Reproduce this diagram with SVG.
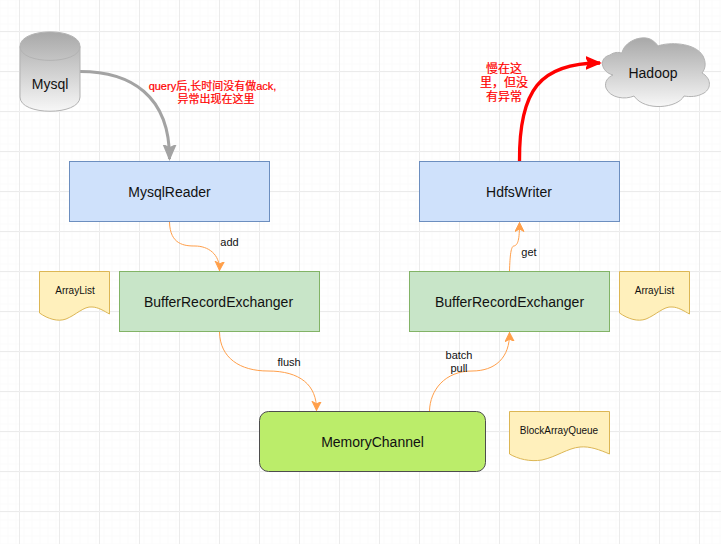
<svg xmlns="http://www.w3.org/2000/svg" width="721" height="544" viewBox="0 0 721 544">
<defs>
<pattern id="minor" width="8" height="8" patternUnits="userSpaceOnUse" x="-0.5" y="-0.5"><path d="M8 0H0V8" fill="none" stroke="#f7f7f7" stroke-width="1"/></pattern>
<pattern id="major" width="40" height="40" patternUnits="userSpaceOnUse" x="19" y="31"><path d="M40 0.5H0.5V40" fill="none" stroke="#ebebeb" stroke-width="1"/></pattern>
<linearGradient id="gray" x1="0" y1="0" x2="0" y2="1"><stop offset="0" stop-color="#a8a8a8"/><stop offset="1" stop-color="#f7f7f7"/></linearGradient>
<marker id="orange" markerUnits="userSpaceOnUse" markerWidth="11" markerHeight="12" refX="9" refY="5" orient="auto"><path d="M0 0.500L9 5L0 9.500L2.500 5Z" fill="#ff9f4a" stroke="#ff9f4a"/></marker>
<marker id="grayhead" markerUnits="userSpaceOnUse" markerWidth="16" markerHeight="16" refX="14" refY="7" orient="auto"><path d="M0 1L14 7L0 13L3 7Z" fill="#a3a3a3" stroke="#a3a3a3" stroke-width="1.500"/></marker>
<marker id="redhead" markerUnits="userSpaceOnUse" markerWidth="16" markerHeight="16" refX="14" refY="7" orient="auto"><path d="M0 1L14 7L0 13L3 7Z" fill="#ff0000" stroke="#ff0000" stroke-width="1.500"/></marker>
</defs>
<style>
text{font-family:"Liberation Sans","Noto Sans CJK SC",sans-serif;fill:#111;text-anchor:middle}
.n{font-size:14px}.s{font-size:11px}.d{font-size:10px}
.r{font-size:11px;fill:#ff0000;stroke:#ff0000;stroke-width:.2}
.r2{font-size:12px}
.blue{fill:#cfe1fb;stroke:#6c8ebf;stroke-width:1}
.green{fill:#c8e5c8;stroke:#82b366;stroke-width:1}
.doc{fill:#fff0bc;stroke:#dcb654;stroke-width:1}
.c{fill:none;stroke:#ff9f4a;stroke-width:1}
</style>
<rect width="721" height="544" fill="#fff"/>
<rect width="721" height="544" fill="url(#minor)"/>
<rect width="721" height="544" fill="url(#major)"/>

<g id="connectors">
<path class="c" d="M169.5 222C170 245 185 246 195 246C208 246 220 254 219.5 270.5" marker-end="url(#orange)"/>
<path class="c" d="M219.5 332C220 358 240 371 268 371C300 371 317 385 316.5 410.5" marker-end="url(#orange)"/>
<path class="c" d="M429.5 411C430 390 445 371 472 371C495 371 510 358 509.5 332.5" marker-end="url(#orange)"/>
<path class="c" d="M509.5 271C510 255 511 246 514 246C518 245 519.5 240 519.5 222.5" marker-end="url(#orange)"/>
<path d="M80 71.500C130 71.500 170 95 169.500 159" fill="none" stroke="#a3a3a3" stroke-width="3" marker-end="url(#grayhead)"/>
<path d="M519.500 161C519 90 540 63 600 63" fill="none" stroke="#ff0000" stroke-width="3.300" marker-end="url(#redhead)"/>
<text class="s" x="229.500" y="246">add</text>
<text class="s" x="289" y="366">flush</text>
<text class="s" x="459" y="359">batch</text>
<text class="s" x="459" y="372">pull</text>
<text class="s" x="529" y="256">get</text>
<text class="r" x="212.500" y="90">query后,长时间没有做ack,</text>
<text class="r" x="216" y="103">异常出现在这里</text>
<text class="r r2" x="504" y="73">慢在这</text>
<text class="r r2" x="504" y="87">里，但没</text>
<text class="r r2" x="504" y="101">有异常</text>
</g>

<g id="mysql">
<path d="M20 46.500C20 27 80 27 80 46.500V97C80 116 20 116 20 97Z" fill="url(#gray)" stroke="#b3b3b3"/>
<path d="M20 46.500C20 65 80 65 80 46.500" fill="none" stroke="#b3b3b3"/>
<text class="n" x="50" y="89">Mysql</text>
</g>
<g id="mysqlreader"><rect class="blue" x="69.500" y="161.500" width="200" height="60"/><text class="n" x="169.500" y="197">MysqlReader</text></g>
<g id="hdfswriter"><rect class="blue" x="419.500" y="161.500" width="200" height="60"/><text class="n" x="519" y="197">HdfsWriter</text></g>
<g id="hadoop">
<path d="M613 75C601 72 598 58 610 55C614 52 618 52 622 53C624 42 640 35 650 39C654 41 656 43 658 46C668 42 695 42 703 56C706 62 706 68 702 73C711 78 712 88 704 93C697 97 690 97 684 96C678 108 645 112 634 96C625 100 610 98 606 88C604 82 608 77 613 75Z" fill="url(#gray)" stroke="#b3b3b3"/>
<text class="n" x="653" y="77.500">Hadoop</text>
</g>
<g id="exchanger-left"><rect class="green" x="119.500" y="271.500" width="200" height="60"/><text class="n" x="218.500" y="307">BufferRecordExchanger</text></g>
<g id="exchanger-right"><rect class="green" x="409.500" y="271.500" width="200" height="60"/><text class="n" x="509.500" y="307">BufferRecordExchanger</text></g>
<g id="arraylist-left"><path class="doc" d="M39.500 271.500H109.500V314C104 311 98 307 92 307C84 306 76 315 66 319C58 322 48 319 39.500 313Z"/><text class="d" x="75" y="294">ArrayList</text></g>
<g id="arraylist-right"><path class="doc" d="M619.500 271.500H689.500V314C684 311 678 307 672 307C664 306 656 315 646 319C638 322 628 319 619.500 313Z"/><text class="d" x="654.500" y="294">ArrayList</text></g>
<g id="memorychannel"><rect x="259.500" y="411.500" width="226" height="60" rx="9" fill="#bbed6a" stroke="#4d4d4d"/><text class="n" x="372.500" y="447">MemoryChannel</text></g>
<g id="blockarrayqueue"><path class="doc" d="M509.500 411.500H609.500V454C600 450 590 446 580 447C568 448 556 457 542 460C530 462 518 459 509.500 454Z"/><text class="d" x="559" y="434">BlockArrayQueue</text></g>
</svg>
